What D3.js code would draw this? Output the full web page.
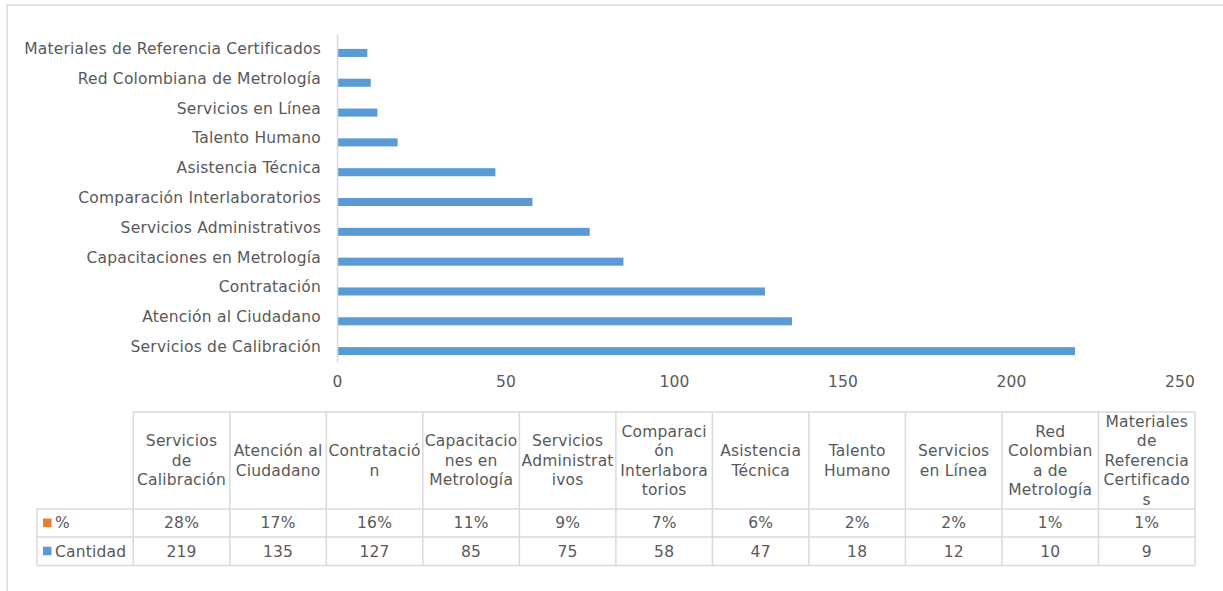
<!DOCTYPE html>
<html>
<head>
<meta charset="utf-8">
<script src="https://cdn.jsdelivr.net/npm/d3@7"></script>
<style>
  body { margin: 0; background: #fff; }
  svg text { font-family: "DejaVu Sans", Verdana, sans-serif; fill: #595959; letter-spacing: 0.2px; }
</style>
</head>
<body>
<div id="chart"></div>
<script>
// categorias en el orden de la tabla (de abajo hacia arriba en el grafico)
const categorias = [
  "Servicios de Calibración", "Atención al Ciudadano", "Contratación",
  "Capacitaciones en Metrología", "Servicios Administrativos",
  "Comparación Interlaboratorios", "Asistencia Técnica", "Talento Humano",
  "Servicios en Línea", "Red Colombiana de Metrología",
  "Materiales de Referencia Certificados"
];
const cantidad = [219, 135, 127, 85, 75, 58, 47, 18, 12, 10, 9];
const porcentaje = [28, 17, 16, 11, 9, 7, 6, 2, 2, 1, 1];
// encabezados de la tabla tal como se parten en la imagen
const encabezados = [
  ["Servicios", "de", "Calibración"],
  ["Atención al", "Ciudadano"],
  ["Contratació", "n"],
  ["Capacitacio", "nes en", "Metrología"],
  ["Servicios", "Administrat", "ivos"],
  ["Comparaci", "ón", "Interlabora", "torios"],
  ["Asistencia", "Técnica"],
  ["Talento", "Humano"],
  ["Servicios", "en Línea"],
  ["Red", "Colombian", "a de", "Metrología"],
  ["Materiales", "de", "Referencia", "Certificado", "s"]
];
const xTicks = [0, 50, 100, 150, 200, 250];
const series = [
  { nombre: "%", color: "#ED7D31" },
  { nombre: "Cantidad", color: "#5B9BD5" }
];

const width = 1223, height = 591;
const fontSize = 15.5;
const gris = "#d9d9d9";

const svg = d3.select("#chart").append("svg")
  .attr("width", width)
  .attr("height", height);

// borde exterior
svg.append("rect")
  .attr("x", 7).attr("y", 5)
  .attr("width", 1400).attr("height", 700)
  .attr("fill", "none")
  .attr("stroke", gris)
  .attr("stroke-width", 1.5);

// escalas
const x = d3.scaleLinear().domain([0, 250]).range([337, 1179.5]);

const y0 = d3.scaleBand()
  .domain(categorias.slice().reverse())
  .range([34, 362])
  .paddingInner(0.46)
  .paddingOuter(0.23);

const y1 = d3.scaleBand()
  .domain(series.map(s => s.nombre))
  .range([0, y0.bandwidth()]);

// barras
const datos = [];
categorias.forEach((c, i) => {
  datos.push({ cat: c, serie: "%", valor: porcentaje[i] / 100, color: series[0].color });
  datos.push({ cat: c, serie: "Cantidad", valor: cantidad[i], color: series[1].color });
});

svg.append("g").selectAll("rect")
  .data(datos)
  .enter()
  .append("rect")
  .attr("x", x(0))
  .attr("y", d => y0(d.cat) + y1(d.serie))
  .attr("width", d => x(d.valor) - x(0))
  .attr("height", y1.bandwidth())
  .attr("fill", d => d.color);

// eje vertical
const ejeY = svg.append("g")
  .attr("transform", `translate(${x(0)},0)`)
  .call(d3.axisLeft(y0).tickSize(0).tickPadding(16));
ejeY.select(".domain").attr("stroke", gris).attr("stroke-width", 1.5);
ejeY.selectAll("text")
  .style("font-size", fontSize + "px")
  .style("font-family", "DejaVu Sans");

// eje horizontal (solo etiquetas)
const ejeX = svg.append("g")
  .attr("transform", "translate(0,362)")
  .call(d3.axisBottom(x).tickValues(xTicks).tickSize(0).tickPadding(14));
ejeX.select(".domain").remove();
ejeX.selectAll("text")
  .style("font-size", fontSize + "px")
  .style("font-family", "DejaVu Sans");

// tabla de datos
const col = d3.scaleBand().domain(categorias).range([133.3, 1195]);
const filas = { top: 412, head: 509, pct: 537, cant: 565.5 };
const tabla = svg.append("g");

tabla.append("line")
  .attr("x1", col.range()[0]).attr("x2", col.range()[1])
  .attr("y1", filas.top).attr("y2", filas.top);
[filas.head, filas.pct, filas.cant].forEach(yy => {
  tabla.append("line")
    .attr("x1", 37).attr("x2", col.range()[1])
    .attr("y1", yy).attr("y2", yy);
});
tabla.append("line")
  .attr("x1", 37).attr("x2", 37)
  .attr("y1", filas.head).attr("y2", filas.cant);
categorias.concat([null]).forEach((c, i) => {
  const xx = c ? col(c) : col.range()[1];
  tabla.append("line")
    .attr("x1", xx).attr("x2", xx)
    .attr("y1", filas.top).attr("y2", filas.cant);
});
tabla.selectAll("line")
  .attr("stroke", gris)
  .attr("stroke-width", 1.5);

// encabezados
const lineH = 19.5;
const headMid = (filas.top + filas.head) / 2;
categorias.forEach((c, i) => {
  const lineas = encabezados[i];
  const t = tabla.append("text")
    .attr("text-anchor", "middle")
    .style("font-size", fontSize + "px");
  lineas.forEach((l, j) => {
    t.append("tspan")
      .attr("x", col(c) + col.bandwidth() / 2)
      .attr("y", headMid + (j - (lineas.length - 1) / 2) * lineH)
      .attr("dy", "0.35em")
      .text(l);
  });
});

// filas de valores
const filaDatos = [
  { serie: series[0], y: (filas.head + filas.pct) / 2, valores: porcentaje.map(v => v + "%") },
  { serie: series[1], y: (filas.pct + filas.cant) / 2, valores: cantidad.map(v => String(v)) }
];
filaDatos.forEach(f => {
  tabla.append("rect")
    .attr("x", 43).attr("y", f.y - 4.5)
    .attr("width", 8.5).attr("height", 8.5)
    .attr("fill", f.serie.color);
  tabla.append("text")
    .attr("x", 55).attr("y", f.y)
    .attr("dy", "0.35em")
    .style("font-size", fontSize + "px")
    .text(f.serie.nombre);
  tabla.selectAll(null)
    .data(f.valores)
    .enter()
    .append("text")
    .attr("x", (d, i) => col(categorias[i]) + col.bandwidth() / 2)
    .attr("y", f.y)
    .attr("dy", "0.35em")
    .attr("text-anchor", "middle")
    .style("font-size", fontSize + "px")
    .text(d => d);
});
</script>
</body>
</html>
